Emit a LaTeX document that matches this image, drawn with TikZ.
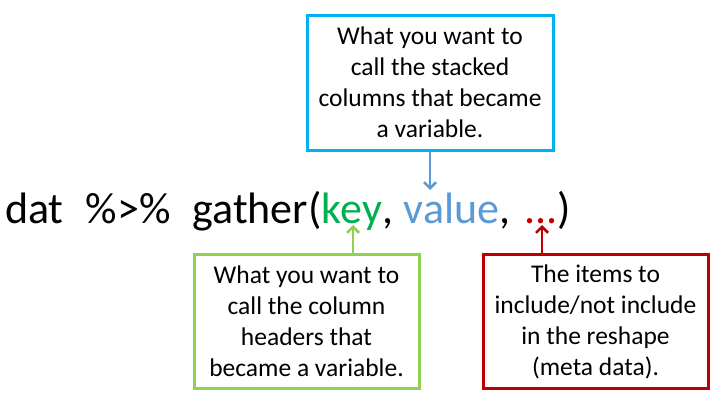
\documentclass[tikz,border=0pt]{standalone}
\usepackage{fontspec}
\setmainfont{Carlito}
\usetikzlibrary{arrows.meta}
\definecolor{cyanbox}{HTML}{00B0F0}
\definecolor{bluearr}{HTML}{5B9BD5}
\definecolor{keygreen}{HTML}{00B050}
\definecolor{limegreen}{HTML}{92D050}
\definecolor{darkred}{HTML}{C00000}
\tikzset{
  infobox/.style={draw, line width=3pt, fill=white, inner sep=0pt, align=center,
    font=\fontsize{25.5}{31}\selectfont},
  codetext/.style={inner sep=0pt, anchor=base west, font=\fontsize{44}{52}\selectfont},
  pointer/.style={line width=2.5pt, -{Straight Barb[length=6pt,width=12pt]}},
}
\begin{document}
\begin{tikzpicture}[x=1pt,y=-1pt]
\useasboundingbox[fill=white] (0,0) rectangle (719,402);

% code line
\node[codetext] (pre) at (5,223) {dat\kern0.5em\%>\%\kern0.5em gather(};
\node[codetext, text=keygreen] (key) at (pre.base east) {key};
\node[codetext] (c1) at (key.base east) {,\kern0.226em};
\node[codetext, text=bluearr] (value) at (c1.base east) {value};
\node[codetext] (c2) at (value.base east) {,\kern0.3em};
\node[codetext, text=darkred] (dots) at (c2.base east) {...};
\node[codetext] (close) at (dots.base east) {)};

% boxes
\node[infobox, draw=cyanbox, minimum width=246pt, minimum height=135pt] (top) at (430,82.5)
  {What you want to\\call the stacked\\columns that became\\a variable.};
\node[infobox, draw=limegreen, minimum width=225pt, minimum height=134pt] (gbox) at (306.5,321.5)
  {What you want to\\call the column\\headers that\\became a variable.};
\node[infobox, draw=darkred, minimum width=225pt, minimum height=134pt] (rbox) at (595.5,321.5)
  {The items to\\include/not include\\in the reshape\\(meta data).};

% arrows
\coordinate (vtip) at (430,190);
\coordinate (ktip) at (353,225);
\coordinate (dtip) at (542,225);
\draw[pointer, draw=bluearr] (top.south) -- (vtip);
\draw[pointer, draw=limegreen] (ktip |- gbox.north) -- (ktip);
\draw[pointer, draw=darkred] (dtip |- rbox.north) -- (dtip);
\end{tikzpicture}
\end{document}
